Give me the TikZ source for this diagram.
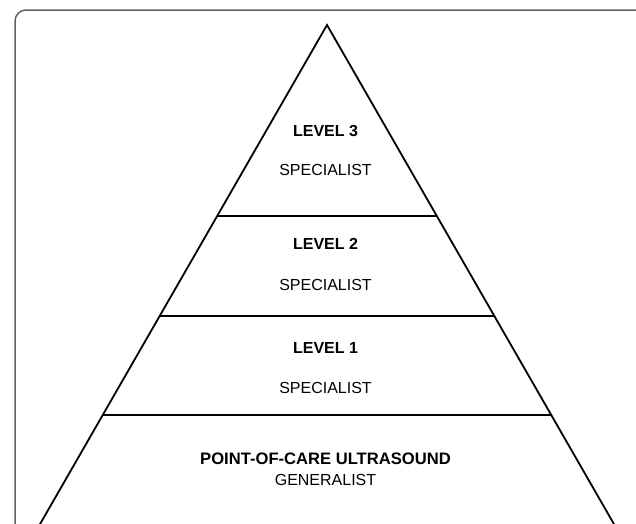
\documentclass[tikz,border=0pt]{standalone}
\usepackage{fontspec}
\setmainfont{Liberation Sans}
\usetikzlibrary{calc}
\begin{document}
\begin{tikzpicture}[x=1pt,y=-1pt,
  edge/.style={line width=1.8pt,black},
  lvl/.style={font=\fontsize{16}{19}\selectfont\bfseries,inner sep=0pt,anchor=base},
  role/.style={font=\fontsize{16}{19}\selectfont,inner sep=0pt,anchor=base}]
\useasboundingbox (0,0) rectangle (636,523);
\draw[line width=1.5pt,gray!75!black,rounded corners=11pt] (15,10) rectangle (646,540);
% triangle corners
\coordinate (apex) at (327,25);
\coordinate (bl) at (39.5,525);
\coordinate (br) at (614.5,525);
\draw[edge,line join=miter] (bl) -- (apex) -- (br);
% separators
\coordinate (l3) at ($(apex)!{(216-25)/500}!(bl)$);
\coordinate (r3) at ($(apex)!{(216-25)/500}!(br)$);
\coordinate (l2) at ($(apex)!{(316-25)/500}!(bl)$);
\coordinate (r2) at ($(apex)!{(316-25)/500}!(br)$);
\coordinate (l1) at ($(apex)!{(415-25)/500}!(bl)$);
\coordinate (r1) at ($(apex)!{(415-25)/500}!(br)$);
\draw[edge] (l3) -- (r3);
\draw[edge] (l2) -- (r2);
\draw[edge] (l1) -- (r1);
% texts
\node[lvl] (t3) at (325.5,136) {LEVEL 3};
\node[role] (s3) at (325.5,175.5) {SPECIALIST};
\node[lvl] (t2) at (325.5,249) {LEVEL 2};
\node[role] (s2) at (325.5,290) {SPECIALIST};
\node[lvl] (t1) at (325.5,353.5) {LEVEL 1};
\node[role] (s1) at (325.5,393) {SPECIALIST};
\node[lvl,font=\fontsize{16.6}{19}\selectfont\bfseries] (t0) at (325.5,464.5) {POINT-OF-CARE ULTRASOUND};
\node[role] (s0) at (325.5,485) {GENERALIST};
\end{tikzpicture}
\end{document}
